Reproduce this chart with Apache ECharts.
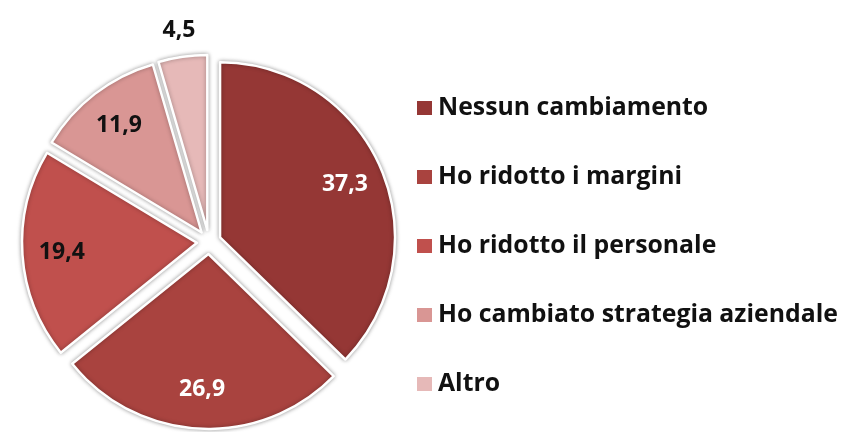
<!DOCTYPE html>
<html>
<head>
<meta charset="utf-8">
<script src="https://cdn.jsdelivr.net/npm/echarts@6/dist/echarts.min.js"></script>
<style>
  html, body { margin: 0; padding: 0; background: #fff; }
  #chart { width: 850px; height: 432px; }
</style>
</head>
<body>
<div id="chart"></div>
<script>
// Risposte (%) sulla reazione delle aziende
const categories = [
  'Nessun cambiamento',
  'Ho ridotto i margini',
  'Ho ridotto il personale',
  'Ho cambiato strategia aziendale',
  'Altro'
];
const values = [37.3, 26.9, 19.4, 11.9, 4.5];
const colors = ['#953735', '#A9433F', '#C0504D', '#D99694', '#E6B9B8'];
const labelColors = ['#ffffff', '#ffffff', '#111111', '#111111', '#111111'];

const FONT = '"Open Sans", Lato, sans-serif';
const CENTER = [209, 242];
const R = 175;
const OFFSET = 12;

const fmt = p => String(p.value).replace('.', ',');

const chart = echarts.init(document.getElementById('chart'), null, { renderer: 'canvas' });

const baseSeries = {
  type: 'pie',
  center: CENTER,
  startAngle: 90,
  clockwise: true,
  selectedMode: 'multiple',
  selectedOffset: OFFSET,
  avoidLabelOverlap: false,
  animation: false,
  emphasis: { disabled: true }
};

const labelStyle = i => ({
  formatter: fmt,
  fontFamily: FONT,
  fontWeight: 'bold',
  fontSize: 23,
  color: labelColors[i]
});

chart.setOption({
  backgroundColor: '#ffffff',
  legend: {
    orient: 'vertical',
    left: 410,
    top: 88,
    data: categories,
    icon: 'rect',
    itemWidth: 17,
    itemHeight: 16,
    itemGap: 39,
    selectedMode: false,
    textStyle: {
      fontFamily: FONT,
      fontWeight: 'bold',
      fontSize: 24.8,
      lineHeight: 30,
      color: '#111111'
    }
  },
  series: [
    // Settori del grafico, tutti staccati dal centro
    Object.assign({}, baseSeries, {
      name: 'settori',
      radius: [0, R],
      label: { show: false },
      labelLine: { show: false },
      itemStyle: {
        borderColor: '#ffffff',
        borderWidth: 2.5,
        shadowBlur: 4,
        shadowColor: 'rgba(0,0,0,0.35)'
      },
      data: categories.map((name, i) => ({
        name,
        value: values[i],
        selected: true,
        itemStyle: { color: colors[i] }
      }))
    }),
    // Etichette interne (anello trasparente)
    Object.assign({}, baseSeries, {
      name: 'etichette',
      silent: true,
      radius: [90, R],
      itemStyle: { color: 'rgba(0,0,0,0)' },
      labelLine: { show: false },
      data: categories.map((name, i) => ({
        name,
        value: values[i],
        selected: true,
        label: Object.assign({ show: i < 4, position: 'inside' }, labelStyle(i))
      }))
    }),
    // Etichetta esterna per la fetta più piccola
    Object.assign({}, baseSeries, {
      name: 'etichette esterne',
      silent: true,
      radius: [R + 4, 218],
      itemStyle: { color: 'rgba(0,0,0,0)' },
      labelLine: { show: false },
      data: categories.map((name, i) => ({
        name,
        value: values[i],
        selected: true,
        label: Object.assign({ show: i === 4, position: 'inside' }, labelStyle(i))
      }))
    })
  ]
});
</script>
</body>
</html>
